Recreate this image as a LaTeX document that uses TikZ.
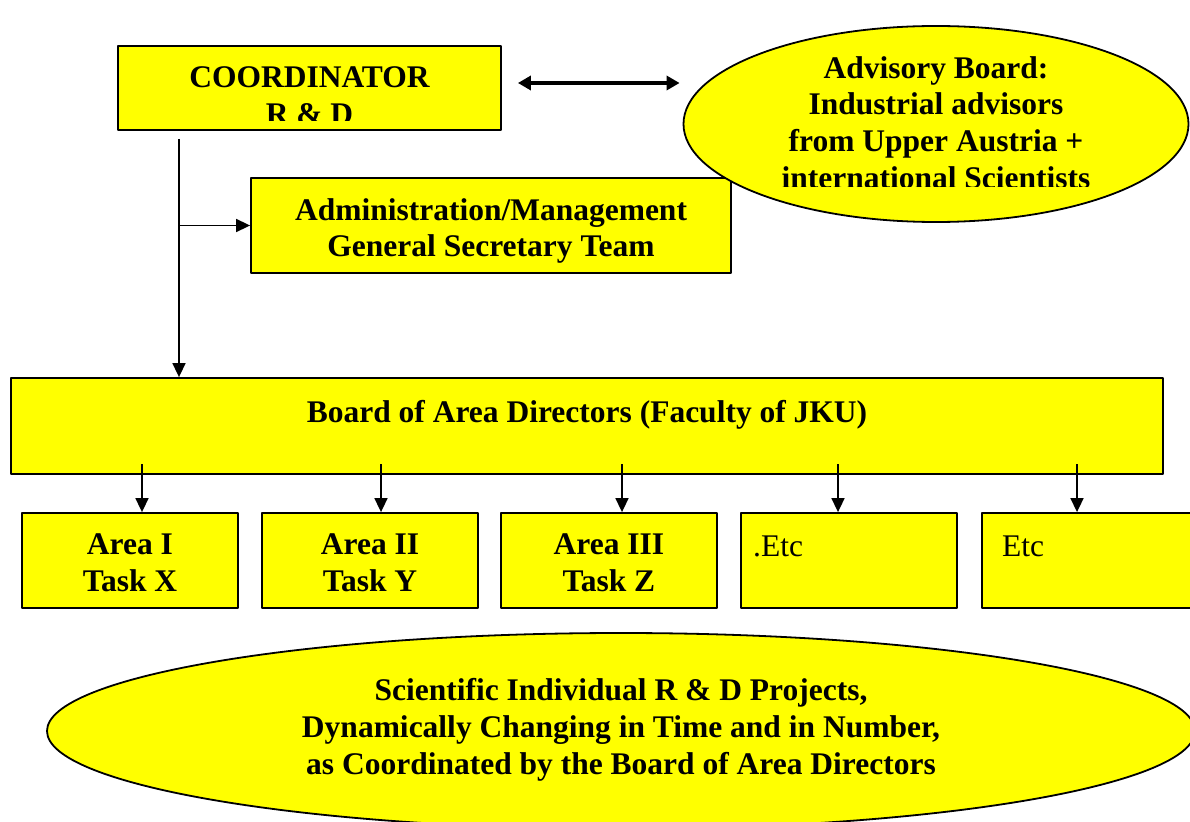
\documentclass[tikz,border=0pt]{standalone}
\usepackage{fontspec}
\setmainfont{Liberation Serif}
\usetikzlibrary{shapes.geometric,arrows.meta}
\definecolor{boxyellow}{RGB}{255,255,0}
\newcommand{\chartsize}{\fontsize{31.5}{36.8}\selectfont}
\begin{document}
\begin{tikzpicture}[x=1pt,y=-1pt,>={Triangle[width=13pt,length=14pt]},line join=round,
	font=\chartsize\bfseries,
	box/.style={draw,fill=boxyellow,line width=1.8pt,inner sep=0pt,minimum width=#1,minimum height=95pt},
	oval/.style={draw,fill=boxyellow,line width=1.8pt,ellipse,inner sep=0pt},
	txt/.style={align=center,inner sep=0pt},
	link/.style={->,line width=1.6pt}]
	\clip (0,0) rectangle (1190,821);
	\fill[white] (0,0) rectangle (1190,821);
	\node[box=383pt,minimum height=84pt] (coord) at (309.5,88) {};
	\node[box=480pt] (admin) at (491,225.5) {};
	\node[oval,minimum width=505pt,minimum height=196pt] (adv) at (936,124) {};
	\node[box=1152pt,minimum height=96pt] (board) at (587,426) {};
	\foreach \x [count=\n] in {130,370,609,849,1090}
		\node[box=216pt] (area\n) at (\x,560.5) {};
	\node[oval,minimum width=1148pt,minimum height=196pt] (proj) at (621,731) {};
	\begin{scope}
		\clip (118,46) rectangle (501,121);
		\node[txt] (coordtxt) at (309.5,96) {COORDINATOR\\R \& D};
	\end{scope}
	\begin{scope}
		\clip (683,20) rectangle (1190,186);
		\node[txt] (advtxt) at (936,122.5) {Advisory Board:\\Industrial advisors\\from Upper Austria +\\international Scientists};
	\end{scope}
	\node[txt] (admintxt) at (491,231) {Administration/Management\\General Secretary Team};
	\node[txt] (boardtxt) at (587,414.5) {Board of Area Directors (Faculty of JKU)};
	\node[txt] (a1txt) at (130,563) {Area I\\Task X};
	\node[txt] (a2txt) at (370,563) {Area II\\Task Y};
	\node[txt] (a3txt) at (609,563) {Area III\\Task Z};
	\node[txt,font=\chartsize\mdseries,anchor=base west] (a4txt) at (753,556) {.Etc};
	\node[txt,font=\chartsize\mdseries,anchor=base west] (a5txt) at (1002,556) {Etc};
	\node[txt] (projtxt) at (621,730) {Scientific Individual R \& D Projects,\\Dynamically Changing in Time and in Number,\\as Coordinated by the Board of Area Directors};
	\draw[<->,line width=4.5pt,>={Triangle[width=14pt,length=13pt]}]
		([shift={(16,-5)}]coord.east) -- ([shift={(-3,-41)}]adv.west);
	\coordinate (trunk) at (179,139);
	\draw[link] (trunk) -- (trunk |- board.north);
	\draw[link] (trunk |- admin.west) -- (admin.west);
	\foreach \x [count=\n] in {142,381,622,838,1077}
		\draw[link,<-] (area\n.north -| \x,0) -- ++(0,-48);
\end{tikzpicture}
\end{document}
